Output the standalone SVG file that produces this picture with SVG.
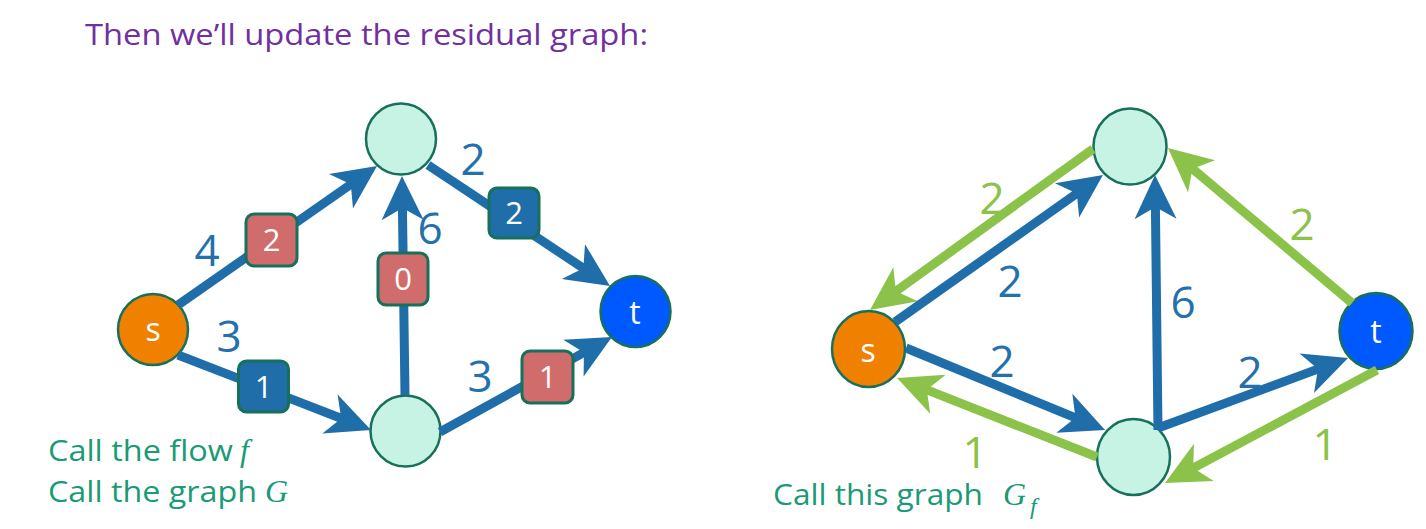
<svg xmlns="http://www.w3.org/2000/svg" width="1426" height="529" viewBox="0 0 1426 529">
  <style>
    .title { font-family: "Open Sans", Lato, sans-serif; font-size: 30px; fill: #7030A0; }
    .note { font-family: "Open Sans", Lato, sans-serif; font-size: 30px; fill: #1A9A76; }
    .math { font-family: "Liberation Serif", "DejaVu Serif", serif; font-style: italic; fill: #1A9A76; }
    .node { stroke: #17705A; stroke-width: 2.5; }
    .src { fill: #F08000; }
    .mid { fill: #C6F3E4; }
    .sink { fill: #0059FF; }
    .nlabel { font-family: "Open Sans", Lato, sans-serif; font-size: 32px; fill: #FFFFFF; text-anchor: middle; }
    .e-blue { stroke: #1F6EA9; stroke-width: 9; fill: none; marker-end: url(#head-blue); }
    .e-green { stroke: #8BC24A; stroke-width: 9; fill: none; marker-end: url(#head-green); }
    .cap-blue { font-family: "Open Sans", Lato, sans-serif; font-size: 44px; fill: #2370AD; text-anchor: middle; }
    .cap-green { font-family: "Open Sans", Lato, sans-serif; font-size: 44px; fill: #8BC24A; text-anchor: middle; }
    .box { stroke: #17705A; stroke-width: 3; }
    .box-red { fill: #D06C6C; }
    .box-blue { fill: #1F6EA9; }
    .box-text { font-family: "Open Sans", Lato, sans-serif; font-size: 31px; fill: #FFFFFF; text-anchor: middle; }
  </style>
  <defs>
    <marker id="head-blue" markerUnits="userSpaceOnUse" orient="auto" refX="0" refY="0" markerWidth="60" markerHeight="60" viewBox="-30 -30 60 60" overflow="visible">
      <path d="M22,0 L-22,-21 L-10,0 L-22,21 Z" fill="#1F6EA9"/>
    </marker>
    <marker id="head-green" markerUnits="userSpaceOnUse" orient="auto" refX="0" refY="0" markerWidth="60" markerHeight="60" viewBox="-30 -30 60 60" overflow="visible">
      <path d="M22,0 L-22,-21 L-10,0 L-22,21 Z" fill="#8BC24A"/>
    </marker>
  </defs>

  <rect width="1426" height="529" fill="#FFFFFF"/>

  <text class="title" x="85" y="45" textLength="563" lengthAdjust="spacingAndGlyphs">Then we’ll update the residual graph:</text>

  <!-- flow network G -->
  <g id="g-s"><ellipse class="node src" cx="153" cy="329.5" rx="35" ry="35.5"/><text class="nlabel" x="153" y="341">s</text></g>
  <g id="g-a"><ellipse class="node mid" cx="401" cy="139" rx="35" ry="35.5"/></g>
  <g id="g-b"><ellipse class="node mid" cx="405.5" cy="431" rx="35" ry="35.5"/></g>
  <g id="g-t"><ellipse class="node sink" cx="635.5" cy="311.5" rx="35" ry="35.5"/><text class="nlabel" x="635" y="324">t</text></g>

  <g id="g-edges">
    <path class="e-blue" d="M178,305 L359,178.6"/>
    <path class="e-blue" d="M428,165 L591.7,273.8"/>
    <path class="e-blue" d="M178,355 L350.5,422"/>
    <path class="e-blue" d="M405,395 L402.3,198"/>
    <path class="e-blue" d="M440,432 L592.7,347.6"/>

    <text class="cap-blue" x="207" y="266">4</text>
    <text class="cap-blue" x="229" y="352">3</text>
    <text class="cap-blue" x="473" y="175">2</text>
    <text class="cap-blue" x="430" y="244">6</text>
    <text class="cap-blue" x="480" y="392">3</text>

    <rect class="box box-red" x="246" y="214" width="51" height="52" rx="8"/>
    <text class="box-text" x="271.5" y="251">2</text>
    <rect class="box box-blue" x="489" y="188" width="50" height="50" rx="8"/>
    <text class="box-text" x="514" y="224">2</text>
    <rect class="box box-red" x="378" y="253" width="50" height="52" rx="8"/>
    <text class="box-text" x="403" y="290">0</text>
    <rect class="box box-blue" x="238.5" y="361" width="50" height="51" rx="8"/>
    <text class="box-text" x="263.5" y="398">1</text>
    <rect class="box box-red" x="522" y="351" width="51" height="52" rx="8"/>
    <text class="box-text" x="547.5" y="388">1</text>
  </g>

  <text class="note" x="48" y="461" textLength="185" lengthAdjust="spacingAndGlyphs">Call the flow</text>
  <text class="math" x="240" y="461" font-size="32">f</text>
  <text class="note" x="48" y="502" textLength="209" lengthAdjust="spacingAndGlyphs">Call the graph</text>
  <text class="math" x="265" y="502" font-size="32">G</text>

  <!-- residual graph Gf -->
  <g id="r-s"><ellipse class="node src" cx="868.5" cy="349" rx="36.5" ry="38"/><text class="nlabel" x="868" y="362">s</text></g>
  <g id="r-a"><ellipse class="node mid" cx="1130" cy="146.5" rx="36.5" ry="38"/></g>
  <g id="r-b"><ellipse class="node mid" cx="1133.5" cy="457" rx="36.5" ry="38"/></g>
  <g id="r-t"><ellipse class="node sink" cx="1376" cy="331" rx="36.5" ry="38"/><text class="nlabel" x="1376" y="343">t</text></g>

  <g id="r-edges">
    <path class="e-green" d="M1093,149 L887.8,297.1"/>
    <path class="e-blue" d="M895,322 L1085,187.7"/>
    <path class="e-blue" d="M1158,430 L1155.3,197"/>
    <path class="e-green" d="M1352,303 L1184.8,162.2"/>
    <path class="e-blue" d="M906,348 L1084.7,421.6"/>
    <path class="e-green" d="M1097,457 L917.5,386.1"/>
    <path class="e-blue" d="M1158,428 L1327.4,365.6"/>
    <path class="e-green" d="M1377,370 L1184.4,472.7"/>

    <text class="cap-green" x="992" y="214">2</text>
    <text class="cap-blue" x="1010" y="297">2</text>
    <text class="cap-blue" x="1183" y="318">6</text>
    <text class="cap-green" x="1302" y="240">2</text>
    <text class="cap-blue" x="1002" y="377">2</text>
    <text class="cap-green" x="975" y="468">1</text>
    <text class="cap-blue" x="1250" y="388">2</text>
    <text class="cap-green" x="1325" y="460">1</text>
  </g>

  <text class="note" x="773" y="505" textLength="210" lengthAdjust="spacingAndGlyphs">Call this graph</text>
  <text class="math" x="1003" y="505" font-size="32">G</text>
  <text class="math" x="1030" y="514" font-size="24">f</text>
</svg>
